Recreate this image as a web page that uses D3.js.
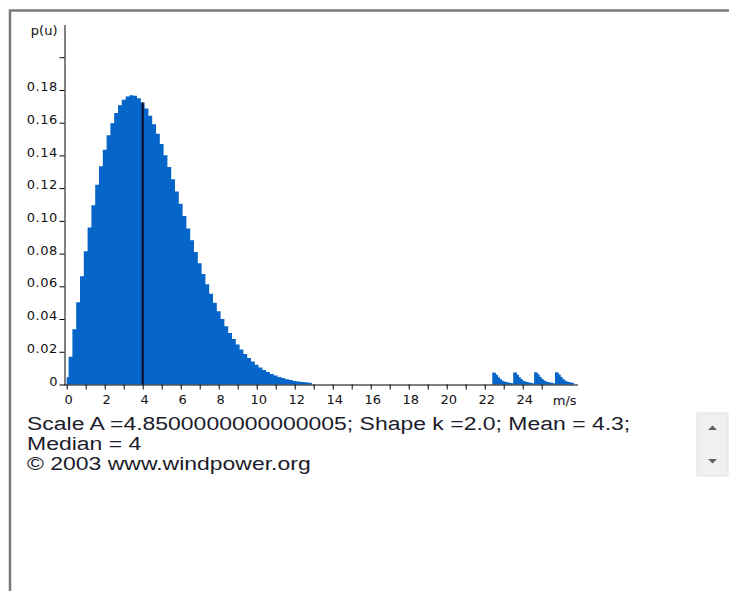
<!DOCTYPE html>
<html>
<head>
<meta charset="utf-8">
<script src="https://cdn.jsdelivr.net/npm/d3@7"></script>
<style>
	html, body { margin: 0; padding: 0; background: #fff; }
	svg { display: block; }
	.tick text, .lbl { font-family: "DejaVu Sans", sans-serif; font-size: 13px; fill: #111; }
	.info { font-family: "Liberation Sans", Arial, sans-serif; font-size: 18.6px; fill: #1b1b2b; }
</style>
</head>
<body>
<svg id="viz" width="729" height="591"></svg>
<script>
// wind speed bins (m/s) and Weibull density
var speedU = [0, 0.2, 0.4, 0.6, 0.8, 1.0, 1.2, 1.4, 1.6, 1.8, 2.0, 2.2, 2.4, 2.6, 2.8, 3.0, 3.2, 3.4, 3.6, 3.8,
	4.0, 4.2, 4.4, 4.6, 4.8, 5.0, 5.2, 5.4, 5.6, 5.8, 6.0, 6.2, 6.4, 6.6, 6.8, 7.0, 7.2, 7.4, 7.6, 7.8,
	8.0, 8.2, 8.4, 8.6, 8.8, 9.0, 9.2, 9.4, 9.6, 9.8, 10.0, 10.2, 10.4, 10.6, 10.8, 11.0, 11.2, 11.4, 11.6, 11.8,
	12.0, 12.2, 12.4, 12.6, 12.8, 13.0];
var density = [0.0045, 0.0170, 0.0338, 0.0502, 0.0662, 0.0815, 0.0960, 0.1095, 0.1220, 0.1334, 0.1435, 0.1523, 0.1597, 0.1659, 0.1706, 0.1740, 0.1760, 0.1768, 0.1764, 0.1749,
	0.1723, 0.1687, 0.1643, 0.1591, 0.1533, 0.1469, 0.1401, 0.1329, 0.1255, 0.1180, 0.1104, 0.1029, 0.0954, 0.0881, 0.0810, 0.0741, 0.0676, 0.0613, 0.0555, 0.0499,
	0.0448, 0.0400, 0.0356, 0.0315, 0.0278, 0.0245, 0.0214, 0.0187, 0.0162, 0.0140, 0.0121, 0.0104, 0.0089, 0.0076, 0.0064, 0.0055, 0.0046, 0.0039, 0.0032, 0.0027,
	0.0022, 0.0019, 0.0015, 0.0013, 0.0010, 0];
// the four little teeth drawn past 22 m/s
var tailU = [22.4, 22.5, 22.6, 22.7, 22.8, 22.9, 23.0, 23.1, 23.2, 23.3, 23.4,
	23.5, 23.6, 23.7, 23.8, 23.9, 24.0, 24.1, 24.2, 24.3, 24.4, 24.5,
	24.6, 24.7, 24.8, 24.9, 25.0, 25.1, 25.2, 25.3, 25.4, 25.5, 25.6,
	25.7, 25.8, 25.9, 26.0, 26.1, 26.2, 26.3, 26.4, 26.5, 26.6, 26.7, 26.8];
var tailP = [0.0073, 0.0072, 0.0060, 0.0045, 0.0033, 0.0023, 0.0018, 0.0015, 0.0012, 0.0010, 0.0008,
	0.0074, 0.0073, 0.0060, 0.0045, 0.0033, 0.0023, 0.0018, 0.0015, 0.0012, 0.0010, 0.0008,
	0.0075, 0.0074, 0.0061, 0.0046, 0.0034, 0.0024, 0.0018, 0.0015, 0.0012, 0.0010, 0.0008,
	0.0075, 0.0074, 0.0061, 0.0046, 0.0034, 0.0024, 0.0018, 0.0015, 0.0012, 0.0010, 0];
var xTicks = [0, 1, 2, 3, 4, 5, 6, 7, 8, 9, 10, 11, 12, 13, 14, 15, 16, 17, 18, 19, 20, 21, 22, 23, 24, 25];
var yTicks = [0, 0.02, 0.04, 0.06, 0.08, 0.10, 0.12, 0.14, 0.16, 0.18, 0.20];
var medianU = 4, medianP = 0.1723;
var infoLines = [
	"Scale A =4.8500000000000005; Shape k =2.0; Mean = 4.3;",
	"Median = 4",
	"\u00a9 2003 www.windpower.org"
];

var svg = d3.select("#viz");
var blue = "#0565c9";

var x = d3.scaleLinear().domain([0, 27]).range([66.7, 579.7]);
var y = d3.scaleLinear().domain([0, 0.22]).range([384.5, 24.5]);

// applet frame
svg.append("path")
	.attr("d", "M10,591V10.5H729")
	.attr("fill", "none")
	.attr("stroke", "#7a7a7a")
	.attr("stroke-width", 2.5);

var area = d3.area()
	.x(function (d) { return x(d[0]); })
	.y0(y(0))
	.y1(function (d) { return y(d[1]); });

svg.append("path")
	.datum(d3.zip(speedU, density))
	.attr("d", area.curve(d3.curveStep))
	.attr("fill", blue);
svg.append("path")
	.datum(d3.zip(tailU, tailP))
	.attr("d", area.curve(d3.curveStepAfter))
	.attr("fill", blue);

svg.append("line")
	.attr("x1", x(medianU)).attr("x2", x(medianU))
	.attr("y1", y(0)).attr("y2", y(medianP))
	.attr("stroke", "#0a0a1a")
	.attr("stroke-width", 2);

var yAxis = svg.append("g")
	.attr("transform", "translate(64.5,0)")
	.call(d3.axisLeft(y)
		.tickValues(yTicks)
		.tickSize(5)
		.tickSizeOuter(0)
		.tickPadding(1.5)
		.tickFormat(function (d) {
			if (d === 0) return "0";
			if (d > 0.19) return "";
			return d3.format(".2f")(d);
		}));
yAxis.selectAll("text").attr("letter-spacing", 0.6).attr("dy", "0.05em");
yAxis.append("text")
	.attr("class", "lbl")
	.attr("x", -7).attr("y", 35)
	.attr("text-anchor", "end")
	.text("p(u)");

var xAxis = svg.append("g")
	.attr("transform", "translate(0," + y(0) + ")")
	.call(d3.axisBottom(x)
		.tickValues(xTicks)
		.tickSize(5)
		.tickSizeOuter(0)
		.tickPadding(5)
		.tickFormat(function (d) { return d % 2 === 0 ? d : ""; }));
xAxis.select(".domain").attr("d", "M64,0.5H578");
xAxis.selectAll(".tick text").attr("dx", 1.5);
xAxis.append("text")
	.attr("class", "lbl")
	.attr("x", x(26) + 4).attr("y", 20.5)
	.attr("text-anchor", "middle")
	.text("m/s");

// the text area under the chart is drawn wider than tall
svg.append("g")
	.attr("transform", "translate(27,0) scale(1.235,1)")
	.selectAll("text.info")
	.data(infoLines)
	.enter().append("text")
	.attr("class", "info")
	.attr("x", 0)
	.attr("y", function (d, i) { return 430 + i * 20; })
	.text(function (d) { return d; });

// scroll bar of the text area
var bar = svg.append("g").attr("transform", "translate(697,413)");
bar.append("rect")
	.attr("width", 31).attr("height", 63)
	.attr("fill", "#f0f0f0")
	.attr("stroke", "#e2e2e2");
bar.append("path").attr("d", "M11,17L15.5,12.5L20,17Z").attr("fill", "#606060");
bar.append("path").attr("d", "M11,46L15.5,50.5L20,46Z").attr("fill", "#606060");
</script>
</body>
</html>
